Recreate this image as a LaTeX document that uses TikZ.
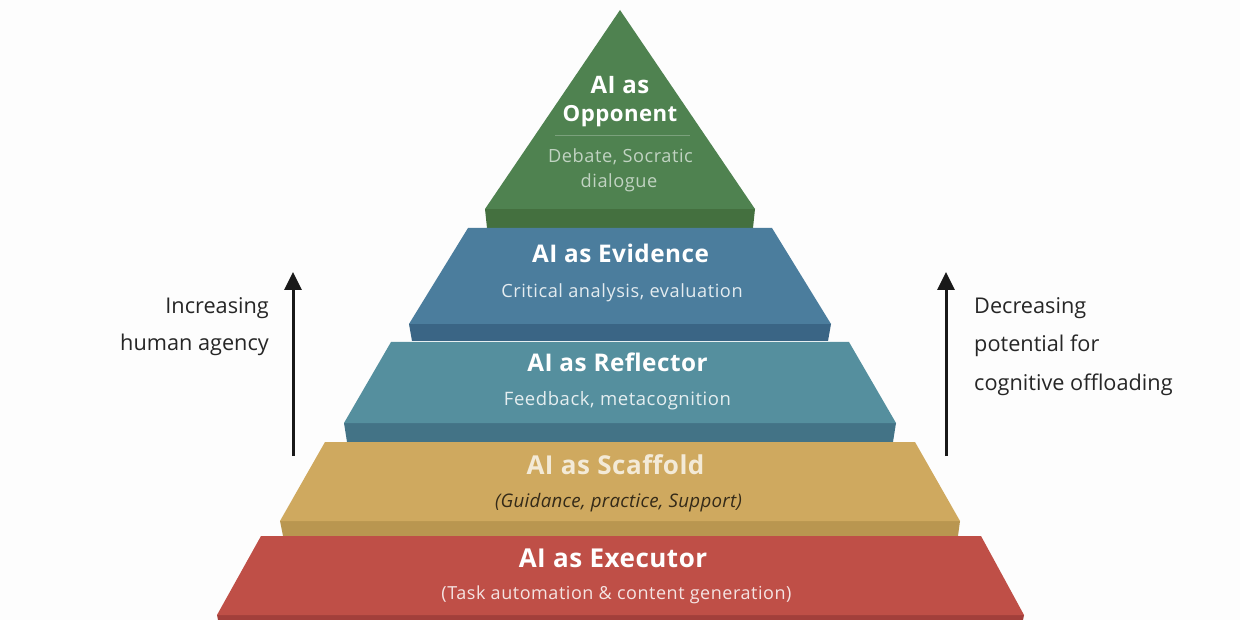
\documentclass[tikz,border=0pt]{standalone}
\usepackage{fontspec}
\setmainfont{Open Sans}
\usetikzlibrary{arrows.meta}
\definecolor{bgc}{HTML}{FDFDFD}
\definecolor{greenT}{HTML}{4F8250}\definecolor{greenF}{HTML}{44703F}
\definecolor{blueT}{HTML}{4B7D9D}\definecolor{blueF}{HTML}{3A6585}
\definecolor{tealT}{HTML}{558F9E}\definecolor{tealF}{HTML}{437386}
\definecolor{yelT}{HTML}{CFA95F}\definecolor{yelF}{HTML}{B99650}
\definecolor{redT}{HTML}{BF4F47}\definecolor{redF}{HTML}{A23F3B}
\tikzset{
  x=1pt,y=-1pt,
  title/.style={anchor=base,inner sep=0pt,text=white,font=\fontsize{#1}{28}\selectfont\bfseries\addfontfeatures{LetterSpace=2}},
  subt/.style={anchor=base,inner sep=0pt,text=white,font=\fontsize{#1}{22}\selectfont\addfontfeatures{LetterSpace=3}},
  side/.style={inner sep=0pt,text=black!85,font=\fontsize{21.7}{25}\selectfont},
  agency/.style={line width=3pt,-{Triangle[length=18pt,width=17pt]},black!90}
}
\begin{document}
\begin{tikzpicture}
\useasboundingbox[fill=bgc] (0,0) rectangle (1240,620);
% green
\fill[greenF] (485,209)--(755,209)--(753,228)--(487,228)--cycle;
\fill[greenT] (620,10)--(755,209)--(485,209)--cycle;
\draw[white!25!greenT,line width=.6pt] (555,135)--(690,135);
% blue
\fill[blueF] (409,324)--(831,324)--(828,341)--(412,341)--cycle;
\fill[blueT] (468,228)--(772,228)--(831,324)--(409,324)--cycle;
% teal
\fill[tealF] (344,423)--(896,423)--(893,442)--(347,442)--cycle;
\fill[tealT] (391,342)--(849,342)--(896,423)--(344,423)--cycle;
% yellow
\fill[yelF] (280,521)--(960,521)--(958,536)--(283,536)--cycle;
\fill[yelT] (325,442)--(915,442)--(960,521)--(280,521)--cycle;
% red
\fill[redF] (217,615)--(1024,615)--(1023,620)--(218,620)--cycle;
\fill[redT] (261,536)--(981,536)--(1024,615)--(217,615)--cycle;
% texts
\node[title=24] (t1) at (620,94) {AI as};
\node[title=22.2] (t2) at (620,122) {Opponent};
\node[subt=18.2,text=white!65!greenT] (s1) at (620.5,163) {Debate, Socratic};
\node[subt=18.2,text=white!65!greenT] (s2) at (619,188) {dialogue};
\node[title=24.3] (t3) at (620.5,263) {AI as Evidence};
\node[subt=18.2,text=white!85!blueT] (s3) at (622,298) {Critical analysis, evaluation};
\node[title=24.3] (t4) at (617.5,371) {AI as Reflector};
\node[subt=18.5,text=white!85!tealT] (s4) at (617.5,405) {Feedback, metacognition};
\node[title=26,text=white!75!yelT] (t5) at (615.5,474) {AI as Scaffold};
\node[subt=18,text=black!75!yelT,font=\fontsize{18.7}{22}\selectfont\itshape\addfontfeatures{LetterSpace=1.5}] (s5) at (618.5,507) {(Guidance, practice, Support)};
\node[title=26] (t6) at (613,567) {AI as Executor};
\node[subt=18,text=white!85!redT] (s6) at (616.5,599) {(Task automation \& content generation)};
% side labels
\node[side,anchor=base east] (l1) at (269,314) {Increasing};
\node[side,anchor=base east] (l2) at (269,351) {human agency};
\node[side,anchor=base west] (r1) at (974,314) {Decreasing};
\node[side,anchor=base west] (r2) at (974,352) {potential for};
\node[side,anchor=base west] (r3) at (974,390) {cognitive offloading};
% arrows
\coordinate (la) at (293,456);\coordinate (lb) at (293,272);
\coordinate (ra) at (946,456);\coordinate (rb) at (946,272);
\draw[agency] (la)--(lb);
\draw[agency] (ra)--(rb);
\end{tikzpicture}
\end{document}
